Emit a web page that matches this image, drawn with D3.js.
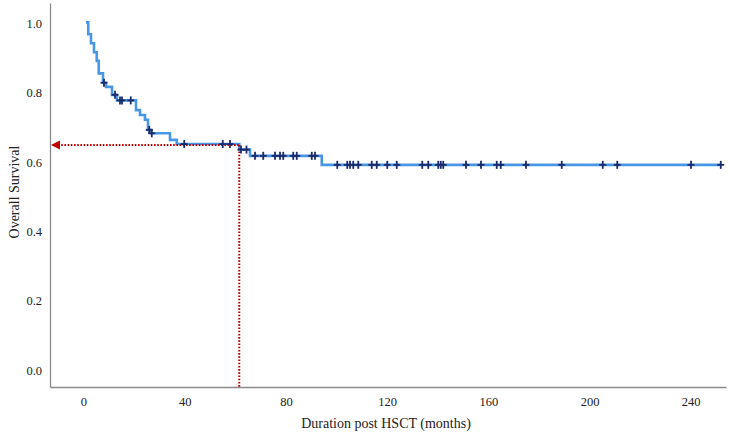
<!DOCTYPE html>
<html>
<head>
<meta charset="utf-8">
<script src="https://cdn.jsdelivr.net/npm/d3@7"></script>
<style>
  html, body { margin: 0; padding: 0; background: #fff; }
  svg { display: block; }
  text { font-family: 'Liberation Serif', 'Times New Roman', serif; }
</style>
</head>
<body>
<svg id="chart" width="730" height="437"></svg>
<script>
// ---- data ----
const startTime = 0.99;
const eventTimes = [1.88, 2.96, 4.15, 5.24, 6.03, 7.71, 8.89, 11.27, 13.24, 20.75, 22.33, 24.31, 25.49, 26.68, 34.19, 36.86, 61.56, 65.81, 94.17];
const eventSurvival = [0.966, 0.940, 0.914, 0.889, 0.853, 0.826, 0.814, 0.791, 0.775, 0.747, 0.733, 0.719, 0.690, 0.680, 0.661, 0.649, 0.633, 0.615, 0.589];
const censorTimes = [8.10, 12.45, 14.43, 15.22, 18.68, 25.99, 26.98, 39.82, 55.04, 57.90, 62.25, 64.43,
  67.79, 71.05, 75.69, 77.67, 78.95, 82.90, 84.29, 90.22, 91.50,
  100.30, 104.25, 105.34, 106.62, 108.60, 113.93, 115.91, 120.06, 123.81,
  133.89, 136.27, 140.22, 141.21, 142.20, 151.19, 157.11, 163.34, 164.92, 174.90, 189.03, 205.24, 210.97, 240.12, 251.88];
const xTicks = [0, 40, 80, 120, 160, 200, 240];
const yTicks = [0.0, 0.2, 0.4, 0.6, 0.8, 1.0];
const refSurvival = 0.646;   // dotted reference level
const refTime = 61.56;       // dotted reference time
const xLabel = "Duration post HSCT (months)";
const yLabel = "Overall Survival";

// ---- scales ----
const x = d3.scaleLinear().domain([-13.24, 253.95]).range([50, 726]);
const y = d3.scaleLinear().domain([-0.052, 1.056]).range([387, 3]);

const svg = d3.select("#chart");
const font = "'Liberation Serif', 'Times New Roman', serif";

// step function
function survAt(t) {
  let s = 1.0;
  for (let i = 0; i < eventTimes.length; i++) {
    if (eventTimes[i] <= t) s = eventSurvival[i];
  }
  return s;
}

// build step path points
const pts = [[startTime, 1.0]];
let prev = 1.0;
eventTimes.forEach((t, i) => {
  pts.push([t, prev]);
  pts.push([t, eventSurvival[i]]);
  prev = eventSurvival[i];
});
pts.push([censorTimes[censorTimes.length - 1], prev]);

// ---- axes ----
const xAxis = d3.axisBottom(x).tickValues(xTicks).tickSize(0).tickPadding(10).tickFormat(d3.format("d"));
const yAxis = d3.axisLeft(y).tickValues(yTicks).tickSize(0).tickPadding(8).tickFormat(d3.format(".1f"));

const gx = svg.append("g").attr("transform", `translate(0,${y.range()[0]})`).call(xAxis);
const gy = svg.append("g").attr("transform", `translate(${x.range()[0]},0)`).call(yAxis);
[gx, gy].forEach(g => {
  g.attr("font-family", font);
  g.select(".domain").attr("stroke", "#8a8a8a").attr("stroke-width", 1.3);
  g.selectAll("text").style("font-family", font).attr("font-size", 12.5).attr("fill", "#222");
});
gy.selectAll("text").attr("dy", "0.42em");

// axis titles
svg.append("text")
  .attr("x", 386).attr("y", 428)
  .attr("text-anchor", "middle")
  .style("font-family", font).attr("font-size", 14).attr("fill", "#222")
  .text(xLabel);
svg.append("text")
  .attr("transform", `translate(19,192) rotate(-90)`)
  .attr("text-anchor", "middle")
  .style("font-family", font).attr("font-size", 14).attr("fill", "#222")
  .text(yLabel);

// ---- KM curve ----
const line = d3.line().x(d => x(d[0])).y(d => y(d[1]));
svg.append("path")
  .datum(pts)
  .attr("d", line)
  .attr("fill", "none")
  .attr("stroke", "#4a96e6")
  .attr("stroke-width", 2.6);

// ---- dotted reference lines ----
const red = "#c00000";
svg.append("line")
  .attr("x1", x(refTime)).attr("x2", x(refTime))
  .attr("y1", y(refSurvival)).attr("y2", y.range()[0])
  .attr("stroke", red).attr("stroke-width", 2).attr("stroke-dasharray", "1.6,1.6");
svg.append("line")
  .attr("x1", x.range()[0] + 8).attr("x2", x(refTime))
  .attr("y1", y(refSurvival)).attr("y2", y(refSurvival))
  .attr("stroke", red).attr("stroke-width", 2).attr("stroke-dasharray", "1.6,1.6");
const ax = x.range()[0] + 1, ay = y(refSurvival);
svg.append("path")
  .attr("d", `M${ax},${ay} L${ax + 9},${ay - 4.5} L${ax + 9},${ay + 4.5} Z`)
  .attr("fill", red);

// ---- censor marks ----
const cg = svg.append("g").attr("stroke", "#1b2a6b").attr("stroke-width", 1.8);
censorTimes.forEach(t => {
  const cx = x(t), cy = y(survAt(t));
  cg.append("line").attr("x1", cx - 3.5).attr("x2", cx + 3.5).attr("y1", cy).attr("y2", cy);
  cg.append("line").attr("x1", cx).attr("x2", cx).attr("y1", cy - 4).attr("y2", cy + 4);
});
</script>
</body>
</html>
